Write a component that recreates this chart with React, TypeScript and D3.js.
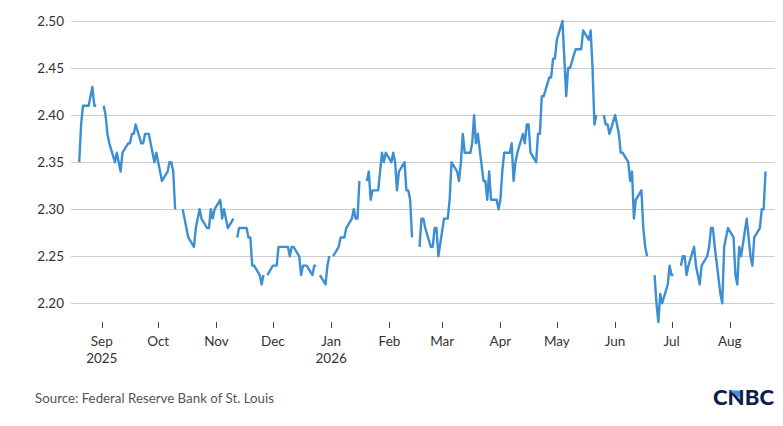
import { useEffect, useRef } from "react";
import * as d3 from "d3";

// One value per weekday of each month (null = market holiday, drawn as a gap)
const aug2025 = [2.35, 2.39, 2.41, 2.41, 2.42, 2.43, 2.41, 2.41]; // from Aug 20
const sep2025 = [null, 2.41, 2.4, 2.38, 2.37, 2.35, 2.36, 2.35, 2.34, 2.36, 2.37, 2.37, 2.38, 2.38, 2.39, 2.37, 2.37, 2.38, 2.38, 2.38, 2.35, 2.36];
const oct2025 = [2.35, 2.34, 2.33, 2.34, 2.35, 2.35, 2.34, 2.3, null, 2.3, 2.29, 2.28, 2.27, 2.26, 2.28, 2.29, 2.3, 2.29, 2.28, 2.28, 2.3, 2.29, 2.3];
const nov2025 = [2.31, 2.29, 2.3, 2.29, 2.28, 2.29, null, 2.27, 2.28, 2.28, 2.28, 2.27, 2.27, 2.24, 2.24, 2.23, 2.22, 2.23, null, 2.23];
const dec2025 = [2.24, 2.24, 2.24, 2.26, 2.26, 2.26, 2.26, 2.25, 2.26, 2.26, 2.25, 2.23, 2.24, 2.24, 2.24, 2.23, 2.24, 2.24, null, 2.23, 2.22, 2.24, 2.25];
const jan2026 = [null, 2.25, 2.26, 2.27, 2.27, 2.27, 2.28, 2.29, 2.3, 2.29, 2.29, 2.33, null, 2.33, 2.34, 2.31, 2.32, 2.32, 2.34, 2.36, 2.35, 2.36];
const feb2026 = [2.35, 2.36, 2.35, 2.32, 2.34, 2.35, 2.32, 2.32, 2.31, 2.27, null, 2.26, 2.29, 2.29, 2.28, 2.26, 2.26, 2.28, 2.28, 2.25];
const mar2026 = [2.29, 2.29, 2.29, 2.31, 2.35, 2.34, 2.33, 2.35, 2.38, 2.36, 2.36, 2.37, 2.4, 2.37, 2.38, 2.33, 2.33, 2.31, 2.34, 2.31, 2.31, 2.3];
const apr2026 = [2.31, 2.34, 2.36, 2.36, 2.37, 2.33, 2.35, 2.36, 2.38, 2.37, 2.39, 2.39, 2.36, 2.35, 2.38, 2.38, 2.42, 2.42, 2.44, 2.44, 2.46, 2.46];
const may2026 = [2.48, 2.5, 2.46, 2.42, 2.45, 2.45, 2.47, 2.47, 2.47, 2.47, 2.49, 2.48, 2.49, 2.45, 2.39, 2.4, null, 2.4, 2.39, 2.39, 2.38];
const jun2026 = [2.4, 2.39, 2.38, 2.36, 2.36, 2.35, 2.33, 2.34, 2.29, 2.31, 2.32, 2.28, 2.26, 2.25, null, 2.23, 2.2, 2.18, 2.21, 2.2, 2.22, 2.24];
const jul2026 = [2.23, 2.23, null, 2.24, 2.25, 2.25, 2.23, 2.24, 2.26, 2.24, 2.23, 2.22, 2.24, 2.25, 2.26, 2.28, 2.28, 2.26, 2.21, 2.2, 2.26, 2.27, 2.28];
const aug2026 = [2.27, 2.23, 2.22, 2.26, 2.25, 2.29, 2.27, 2.25, 2.24, 2.27, 2.28, 2.3, 2.3, 2.34];

const months: Array<{ year: number; month: number; from: number; values: (number | null)[] }> = [
  { year: 2025, month: 7, from: 20, values: aug2025 },
  { year: 2025, month: 8, from: 1, values: sep2025 },
  { year: 2025, month: 9, from: 1, values: oct2025 },
  { year: 2025, month: 10, from: 1, values: nov2025 },
  { year: 2025, month: 11, from: 1, values: dec2025 },
  { year: 2026, month: 0, from: 1, values: jan2026 },
  { year: 2026, month: 1, from: 1, values: feb2026 },
  { year: 2026, month: 2, from: 1, values: mar2026 },
  { year: 2026, month: 3, from: 1, values: apr2026 },
  { year: 2026, month: 4, from: 1, values: may2026 },
  { year: 2026, month: 5, from: 1, values: jun2026 },
  { year: 2026, month: 6, from: 1, values: jul2026 },
  { year: 2026, month: 7, from: 1, values: aug2026 },
];

const yTicks = [2.2, 2.25, 2.3, 2.35, 2.4, 2.45, 2.5];
const monthLabels = ["Sep", "Oct", "Nov", "Dec", "Jan", "Feb", "Mar", "Apr", "May", "Jun", "Jul", "Aug"];
const yearLabels: Record<string, string> = { Sep: "2025", Jan: "2026" };

type Point = { date: Date; value: number | null };

// pair each value with its weekday date
function buildSeries(): Point[] {
  const out: Point[] = [];
  months.forEach(({ year, month, from, values }) => {
    let i = 0;
    let day = from;
    while (i < values.length) {
      const d = new Date(year, month, day);
      const dow = d.getDay();
      if (dow !== 0 && dow !== 6) {
        out.push({ date: d, value: values[i] });
        i++;
      }
      day++;
    }
  });
  return out;
}

const W = 783;
const H = 426;
const FONT = "Lato, 'Open Sans', sans-serif";

export default function App() {
  const svgRef = useRef<SVGSVGElement | null>(null);

  useEffect(() => {
    const svgEl = svgRef.current;
    if (!svgEl) return;
    const svg = d3.select(svgEl);
    svg.selectAll("*").remove();

    const data = buildSeries();

    const x = d3
      .scaleTime()
      .domain([new Date(2025, 8, 1), new Date(2026, 7, 1)])
      .range([101.8, 729.8]);
    const y = d3.scaleLinear().domain([2.2, 2.5]).range([303.3, 21]);

    // Gridlines + y labels
    const grid = svg.append("g");
    grid
      .selectAll("line")
      .data(yTicks)
      .enter()
      .append("line")
      .attr("x1", 71)
      .attr("x2", 775)
      .attr("y1", (d) => Math.round(y(d)) + 0.5)
      .attr("y2", (d) => Math.round(y(d)) + 0.5)
      .attr("stroke", "#cccccc")
      .attr("stroke-width", 1);
    grid
      .selectAll("text")
      .data(yTicks)
      .enter()
      .append("text")
      .text((d) => d3.format(".2f")(d))
      .attr("x", 64)
      .attr("y", (d) => y(d) + 4.5)
      .attr("text-anchor", "end")
      .attr("font-family", FONT)
      .attr("font-size", 13.5)
      .attr("fill", "#333333");

    // X ticks
    const tickDates = d3.timeMonth.range(new Date(2025, 8, 1), new Date(2026, 8, 1));
    const xAxis = svg.append("g");
    xAxis
      .selectAll("line")
      .data(tickDates)
      .enter()
      .append("line")
      .attr("x1", (d) => Math.round(x(d)) + 0.5)
      .attr("x2", (d) => Math.round(x(d)) + 0.5)
      .attr("y1", 322)
      .attr("y2", 328)
      .attr("stroke", "#444444")
      .attr("stroke-width", 1);
    xAxis
      .selectAll("text.month")
      .data(tickDates)
      .enter()
      .append("text")
      .attr("class", "month")
      .text((_d, i) => monthLabels[i])
      .attr("x", (d) => x(d))
      .attr("y", 346)
      .attr("text-anchor", "middle")
      .attr("font-family", FONT)
      .attr("font-size", 13.5)
      .attr("fill", "#333333");
    xAxis
      .selectAll("text.year")
      .data(tickDates.filter((_d, i) => yearLabels[monthLabels[i]]))
      .enter()
      .append("text")
      .attr("class", "year")
      .text((d) => yearLabels[monthLabels[d.getMonth() >= 8 ? d.getMonth() - 8 : d.getMonth() + 4]])
      .attr("x", (d) => x(d))
      .attr("y", 363)
      .attr("text-anchor", "middle")
      .attr("font-family", FONT)
      .attr("font-size", 13.5)
      .attr("fill", "#333333");

    // Series line
    const line = d3
      .line<Point>()
      .defined((d) => d.value != null)
      .x((d) => x(d.date))
      .y((d) => y(d.value as number));

    svg
      .append("path")
      .datum(data)
      .attr("d", line)
      .attr("fill", "none")
      .attr("stroke", "#3d8fd3")
      .attr("stroke-width", 2.4)
      .attr("stroke-linejoin", "round")
      .attr("stroke-linecap", "butt");

    // Footer
    svg
      .append("text")
      .text("Source: Federal Reserve Bank of St. Louis")
      .attr("x", 35)
      .attr("y", 403)
      .attr("font-family", FONT)
      .attr("font-size", 13.3)
      .attr("fill", "#555555");

    const logo = svg.append("g");
    logo
      .append("text")
      .text("CNBC")
      .attr("x", 713)
      .attr("y", 405)
      .attr("textLength", 61)
      .attr("lengthAdjust", "spacingAndGlyphs")
      .attr("font-family", FONT)
      .attr("font-weight", 900)
      .attr("font-size", 20)
      .attr("fill", "#0c1f4a");
    logo
      .append("path")
      .attr("d", "M729,390.5 L740,390.5 L740,398 Z")
      .attr("fill", "#3e8fd6");
  }, []);

  return (
    <svg
      ref={svgRef}
      width={W}
      height={H}
      style={{ position: "absolute", left: 0, top: 0, background: "#ffffff" }}
      role="img"
      aria-label="Line chart, Aug 2025 to Aug 2026"
    />
  );
}
